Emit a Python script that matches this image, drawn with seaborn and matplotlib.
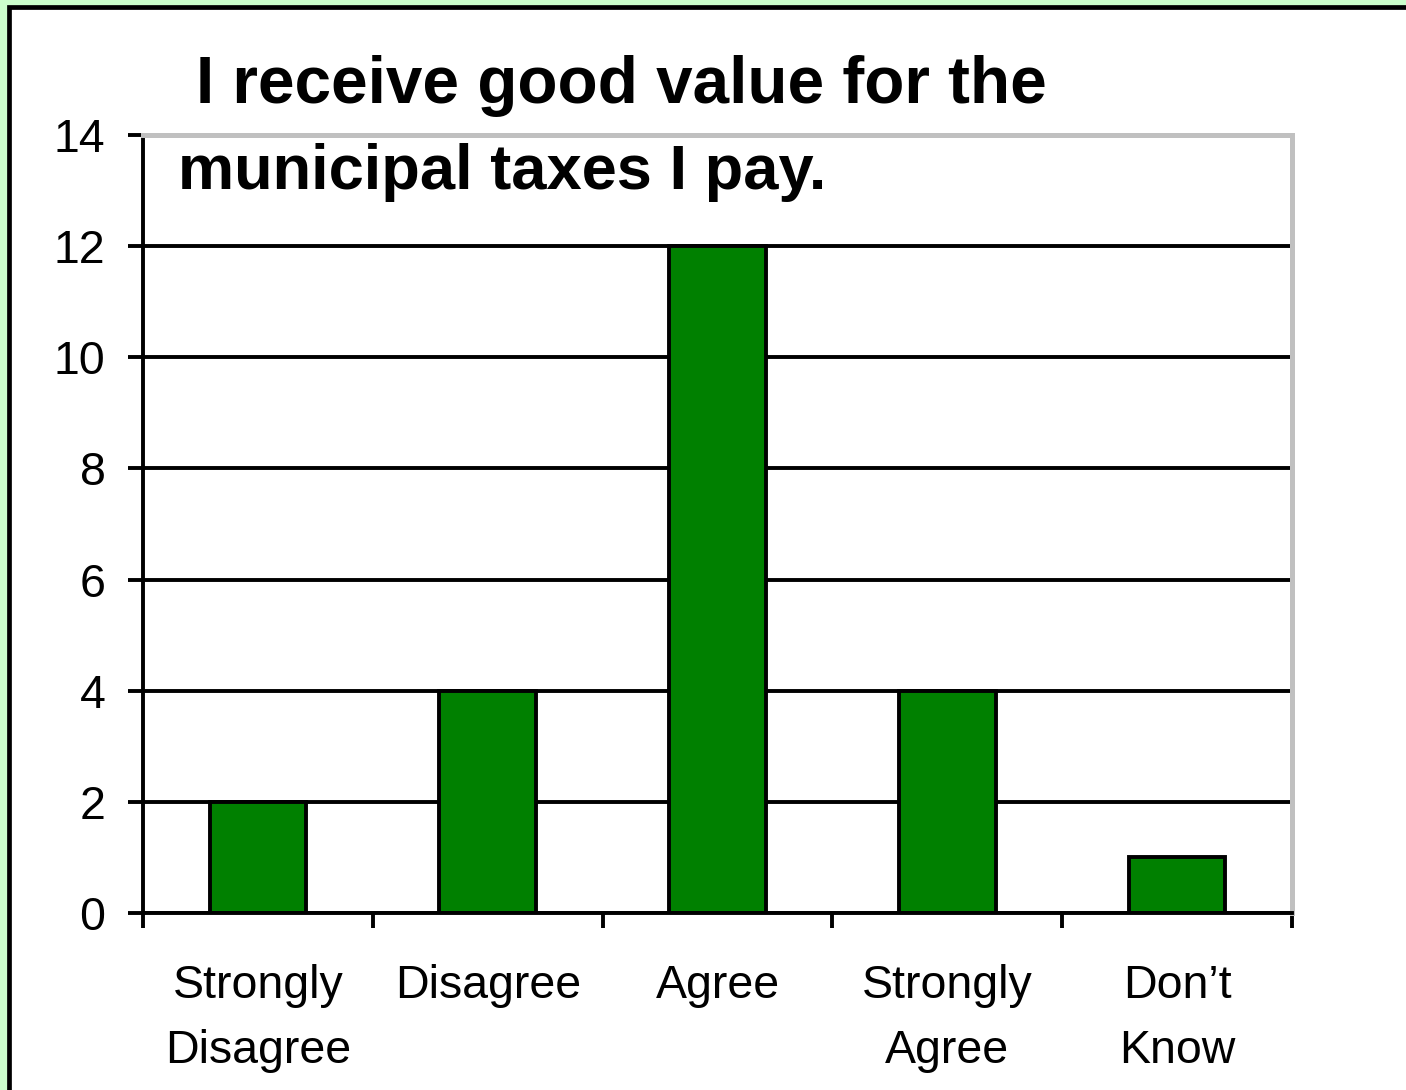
import matplotlib
matplotlib.use("Agg")
import matplotlib.pyplot as plt
import matplotlib.patches as mpatches
from matplotlib.ticker import FixedLocator
import seaborn as sns

categories = ["Strongly\nDisagree", "Disagree", "Agree", "Strongly\nAgree", "Don\u2019t\nKnow"]
values = [2, 4, 12, 4, 1]
yticks = [0, 2, 4, 6, 8, 10, 12, 14]
title_lines = ["I receive good value for the", "municipal taxes I pay."]

sns.set_theme(style="white")
plt.rcParams['font.family'] = ['Liberation Sans', 'DejaVu Sans']

W, H = 1406, 1090
fig = plt.figure(figsize=(W / 100, H / 100), dpi=100, facecolor="#ccffcc")

# white panel with black frame
panel = mpatches.Rectangle((9 / W, -0.05), 1.1, 1 - 6.5 / H + 0.05,
                           transform=fig.transFigure, facecolor="white",
                           edgecolor="black", linewidth=3.4, zorder=-10)
fig.add_artist(panel)

ax = fig.add_axes([143 / W, 1 - 913 / H, (1292 - 143) / W, (913 - 135) / H])
ax.set_facecolor("white")

sns.barplot(x=categories, y=values, color="#008000", saturation=1,
            edgecolor="black", linewidth=2.8, width=0.42, ax=ax, zorder=2)

ax.set_ylim(0, 14)
ax.set_xlim(-0.5, 4.5)
ax.set_yticks(yticks)
ax.set_yticklabels([str(v) for v in yticks])
ax.set_axisbelow(True)
ax.yaxis.grid(True, color="black", linewidth=2.8)
ax.xaxis.grid(False)

for s in ["left", "bottom"]:
    ax.spines[s].set_color("black")
    ax.spines[s].set_linewidth(2.8)
for s in ["top", "right"]:
    ax.spines[s].set_color("#c0c0c0")
    ax.spines[s].set_linewidth(3.6)

ax.tick_params(axis="y", which="major", direction="out", length=11, width=2.8,
               color="black", pad=16, labelsize=33.5, labelcolor="black", left=True)
ax.tick_params(axis="x", which="major", length=0, pad=37, labelsize=33.5,
               labelcolor="black", bottom=True)
ax.xaxis.set_minor_locator(FixedLocator([-0.5, 0.5, 1.5, 2.5, 3.5, 4.5]))
ax.tick_params(axis="x", which="minor", direction="out", length=11, width=2.8,
               color="black", bottom=True)
for lab in ax.get_xticklabels():
    lab.set_linespacing(1.62)
    lab.set_verticalalignment("top")
ax.set_xlabel("")
ax.set_ylabel("")

# title lines
t1 = fig.text(196 / W, 1 - 103 / H, title_lines[0], ha="left", va="baseline",
              fontsize=48, fontweight="bold", color="black")
t2 = fig.text(178 / W, 1 - 189 / H, title_lines[1], ha="left", va="baseline",
              fontsize=48, fontweight="bold", color="black")
fig.canvas.draw()
r = fig.canvas.get_renderer()
for t, target in [(t1, 1045 - 196), (t2, 826 - 178)]:
    w = t.get_window_extent(r).width
    t.set_fontsize(48 * target / w)

fig.savefig("out.png", dpi=100, facecolor=fig.get_facecolor())
